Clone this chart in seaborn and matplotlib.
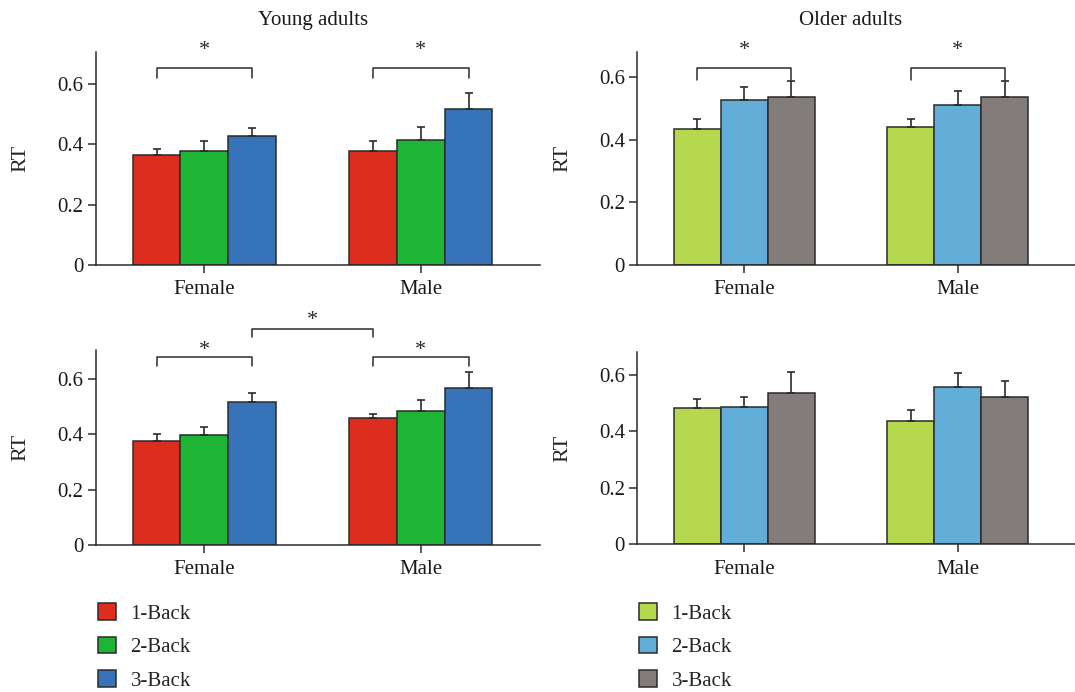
import numpy as np
import pandas as pd
import matplotlib
matplotlib.use("Agg")
import matplotlib.pyplot as plt
import matplotlib.transforms as mtransforms
from matplotlib.patches import Patch
import seaborn as sns

# categories
sexes = ["Female", "Male"]
loads = ["1-Back", "2-Back", "3-Back"]

# young adults, upper panel
young1_female = [0.365, 0.378, 0.427]
young1_male = [0.378, 0.413, 0.516]
young1_female_err = [0.020, 0.033, 0.026]
young1_male_err = [0.033, 0.043, 0.053]

# older adults, upper panel
older1_female = [0.434, 0.527, 0.537]
older1_male = [0.439, 0.511, 0.537]
older1_female_err = [0.032, 0.040, 0.051]
older1_male_err = [0.027, 0.044, 0.051]

# young adults, lower panel
young2_female = [0.377, 0.398, 0.516]
young2_male = [0.459, 0.484, 0.567]
young2_female_err = [0.025, 0.030, 0.032]
young2_male_err = [0.016, 0.040, 0.059]

# older adults, lower panel
older2_female = [0.482, 0.487, 0.536]
older2_male = [0.438, 0.557, 0.521]
older2_female_err = [0.034, 0.036, 0.073]
older2_male_err = [0.037, 0.049, 0.057]

young_colors = ["#DC2D1E", "#1EB436", "#3673B8"]
older_colors = ["#B6D84E", "#62AED8", "#827D7A"]

sns.set_style("ticks")
plt.rcParams["font.family"] = ["Liberation Serif", "DejaVu Serif"]
plt.rcParams["font.size"] = 15

DARK = "#2b2b2b"
FS = 15

fig = plt.figure(figsize=(10.75, 6.92), dpi=100)


def panel(rect, fem, male, fem_err, male_err, colors, ytop):
    ax = fig.add_axes(rect)
    df = pd.DataFrame({"sex": np.repeat(sexes, len(loads)),
                       "load": loads * len(sexes),
                       "rt": fem + male})
    sns.barplot(data=df, x="sex", y="rt", hue="load", order=sexes,
                hue_order=loads, palette=colors, saturation=1, width=0.66,
                gap=0, edgecolor=DARK, linewidth=1.1, errorbar=None,
                legend=False, ax=ax)
    errs = {"Female": fem_err, "Male": male_err}
    centers = {}
    for k, (load, cont) in enumerate(zip(loads, ax.containers)):
        for sex, bar in zip(sexes, cont):
            xc = bar.get_x() + bar.get_width() / 2
            h = bar.get_height()
            centers[(sex, load)] = xc
            ax.errorbar(xc, h, yerr=[[0], [errs[sex][k]]], fmt="none",
                        ecolor=DARK, elinewidth=1.2, capsize=2.8,
                        capthick=1.2, zorder=3)
    ax.set_xlim(-0.5, 1.55)
    ax.set_ylim(0, ytop)
    ax.set_yticks([0, 0.2, 0.4, 0.6])
    ax.set_yticklabels(["0", "0.2", "0.4", "0.6"])
    ax.set_xlabel("")
    ax.set_ylabel("RT", fontsize=FS + 1)
    ax.yaxis.set_label_coords(-0.148, 0.5)
    sns.despine(ax=ax)
    for s in ["left", "bottom"]:
        ax.spines[s].set_color(DARK)
        ax.spines[s].set_linewidth(1.1)
    ax.tick_params(axis="y", length=6, width=1.1, pad=3, color=DARK,
                   labelsize=FS, labelcolor="#1a1a1a")
    ax.tick_params(axis="x", length=6, width=1.1, pad=5, color=DARK,
                   labelsize=FS, labelcolor="#1a1a1a")
    return ax, centers


def bracket(ax, x1, x2, y_top, y_leg, star_y):
    ax.plot([x1, x1, x2, x2], [y_leg, y_top, y_top, y_leg], color=DARK,
            lw=1.1, clip_on=False)
    ax.text((x1 + x2) / 2, star_y, "*", ha="center", va="baseline",
            fontsize=FS + 1, color=DARK)


ax1, c1 = panel([0.0893, 0.617, 0.413, 0.308], young1_female, young1_male,
                young1_female_err, young1_male_err, young_colors, 0.706)
ax2, c2 = panel([0.593, 0.617, 0.407, 0.308], older1_female, older1_male,
                older1_female_err, older1_male_err, older_colors, 0.68)
ax3, c3 = panel([0.0893, 0.2124, 0.413, 0.282], young2_female, young2_male,
                young2_female_err, young2_male_err, young_colors, 0.705)
ax4, c4 = panel([0.593, 0.2135, 0.407, 0.2775], older2_female, older2_male,
                older2_female_err, older2_male_err, older_colors, 0.68)

# titles centred over the bar groups
for ax, title in [(ax1, "Young adults"), (ax2, "Older adults")]:
    tr = mtransforms.blended_transform_factory(ax.transData, ax.transAxes)
    ax.text(0.5, 1.127, title, transform=tr, ha="center", va="baseline",
            fontsize=FS, color="#1a1a1a")

# significance brackets
for sex in sexes:
    bracket(ax1, c1[(sex, "1-Back")], c1[(sex, "3-Back")], 0.652, 0.621, 0.696)
    bracket(ax2, c2[(sex, "1-Back")], c2[(sex, "3-Back")], 0.630, 0.591, 0.671)
    bracket(ax3, c3[(sex, "1-Back")], c3[(sex, "3-Back")], 0.678, 0.646, 0.686)
bracket(ax3, c3[("Female", "3-Back")], c3[("Male", "1-Back")], 0.781, 0.750, 0.794)

# legends
for colors, x0 in [(young_colors, 0.0912), (older_colors, 0.5945)]:
    handles = [Patch(facecolor=c, edgecolor=DARK, linewidth=1.1) for c in colors]
    fig.legend(handles, loads, loc="upper left", bbox_to_anchor=(x0, 0.1286),
               frameon=False, borderpad=0, borderaxespad=0,
               handlelength=0.86, handleheight=0.86, handletextpad=0.7,
               labelspacing=0.62, fontsize=FS)

fig.savefig("out.png", dpi=100)
